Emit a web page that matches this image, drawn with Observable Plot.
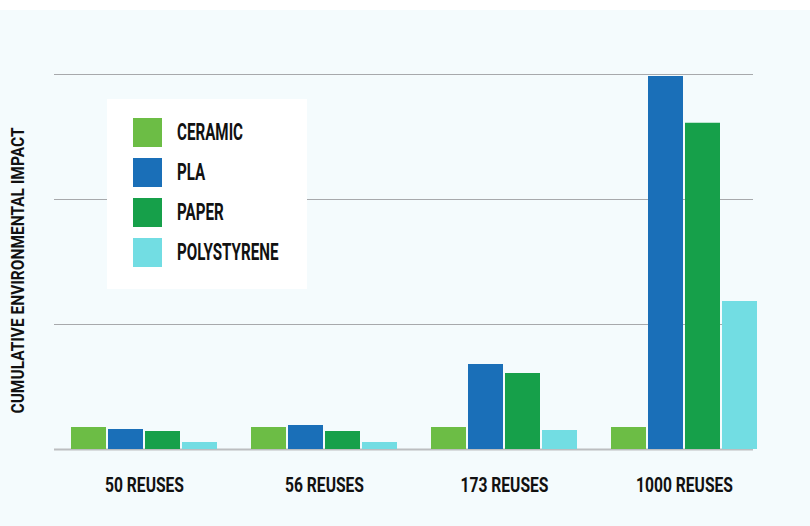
<!DOCTYPE html>
<html>
<head>
<meta charset="utf-8">
<script src="https://cdn.jsdelivr.net/npm/d3@7"></script>
<script src="https://cdn.jsdelivr.net/npm/@observablehq/plot@0.6"></script>
<style>
  html, body { margin: 0; padding: 0; background: #ffffff; }
  #wrap { position: absolute; left: 0; top: 10px; width: 810px; height: 516px; background: #f4fbfd; }
  #legend { position: absolute; left: 107px; top: 89px; width: 200px; height: 190px; background: #ffffff; }
  .item { position: absolute; left: 26px; height: 29px; display: flex; align-items: center; }
  .sw { width: 29px; height: 29px; flex: none; }
  .lab { margin-left: 15px; font-family: Roboto, "DejaVu Sans", sans-serif; font-weight: 700; font-size: 23px; color: #111; transform-origin: 0 50%; white-space: nowrap; }
  svg text { font-family: Roboto, "DejaVu Sans", sans-serif; }
</style>
</head>
<body>
<div id="wrap"></div>
<script>
const groups = ["50 REUSES", "56 REUSES", "173 REUSES", "1000 REUSES"];
const series = ["CERAMIC", "PLA", "PAPER", "POLYSTYRENE"];
const ceramic = [0.176, 0.176, 0.176, 0.176];
const pla = [0.16, 0.192, 0.68, 2.984];
const paper = [0.144, 0.144, 0.608, 2.61];
const polystyrene = [0.056, 0.056, 0.152, 1.184];
const gridValues = [1, 2, 3];
const yLabel = "CUMULATIVE ENVIRONMENTAL IMPACT";
const colors = ["#6cbd45", "#1a6fb8", "#16a04a", "#72dde3"];

const valuesBySeries = [ceramic, pla, paper, polystyrene];
const rows = [];
series.forEach((s, i) => groups.forEach((g, j) => rows.push({group: g, series: s, idx: i, value: valuesBySeries[i][j]})));

const BAR = 35, GAP = 2;
const barMarks = series.map((s, i) => Plot.barY(rows.filter(d => d.series === s), {
  x: "group", y: "value", fill: colors[i],
  insetLeft: i * (BAR + GAP), insetRight: (3 - i) * (BAR + GAP)
}));

const chart = Plot.plot({
  width: 810,
  height: 516,
  marginLeft: 54,
  marginRight: 36,
  marginTop: 64,
  marginBottom: 77,
  style: { background: "transparent", overflow: "visible" },
  x: { domain: groups, paddingInner: 0.189, paddingOuter: 0.0944, label: null },
  y: { domain: [0, 3], axis: null },
  marks: [
    Plot.ruleY(gridValues, { stroke: "#a7a9ac", strokeWidth: 1.2, insetRight: 21 }),
    Plot.ruleY([0], { stroke: "#bcbec0", strokeWidth: 2, insetRight: 21 }),
    ...barMarks,
    Plot.axisX({ tickSize: 0, tickPadding: 28, fontSize: 21, fontWeight: 700, fill: "#111", label: null }),
    Plot.text([yLabel], { frameAnchor: "left", rotate: -90, dx: -36.5, dy: 8.5, fontSize: 19, fontWeight: 700, fill: "#111", textAnchor: "middle", lineAnchor: "middle" })
  ]
});
const wrap = document.getElementById("wrap");
wrap.appendChild(chart);

// condense text horizontally to mimic the narrow typeface (uniform factor per group)
function condense(textEls, targetWidth) {
  if (!textEls.length) return;
  const widths = textEls.map(t => t.getComputedTextLength());
  const s = targetWidth / widths[0];
  textEls.forEach((t, i) => {
    t.setAttribute("textLength", (widths[i] * s).toFixed(2));
    t.setAttribute("lengthAdjust", "spacingAndGlyphs");
  });
}
const allTexts = Array.from(chart.querySelectorAll("text"));
const xTexts = groups.map(g => allTexts.find(t => t.textContent === g)).filter(Boolean);
condense(xTexts, 79);
const yTexts = allTexts.filter(t => t.textContent === yLabel);
condense(yTexts, 286);

const legend = document.createElement("div");
legend.id = "legend";
series.forEach((s, i) => {
  const it = document.createElement("div");
  it.className = "item";
  it.style.top = (19 + i * 40) + "px";
  it.innerHTML = `<div class="sw" style="background:${colors[i]}"></div><div class="lab">${s}</div>`;
  legend.appendChild(it);
});
wrap.appendChild(legend);
const labs = Array.from(legend.querySelectorAll(".lab"));
const ls = 66 / labs[0].getBoundingClientRect().width;
labs.forEach(l => { l.style.transform = `scaleX(${ls})`; });
</script>
</body>
</html>
